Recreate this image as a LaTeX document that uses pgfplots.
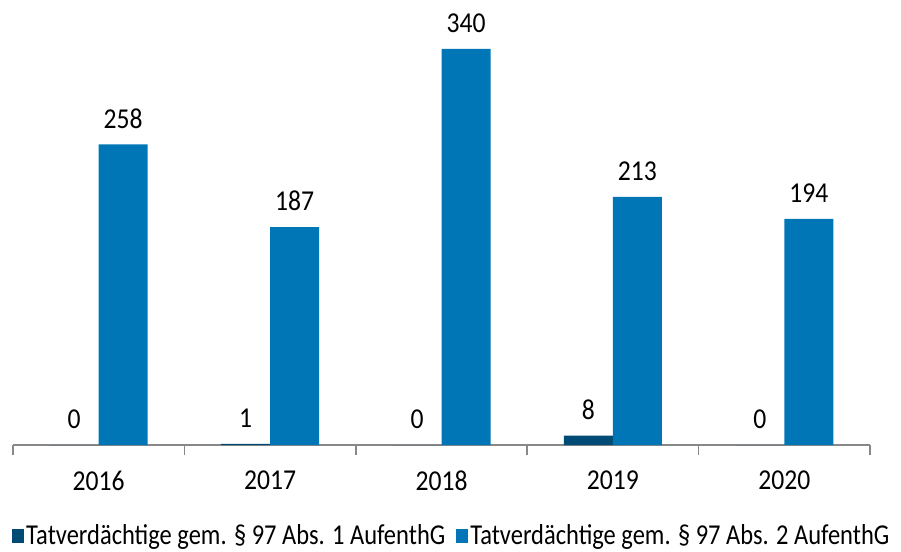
\documentclass[border=0pt]{standalone}
\usepackage{pgfplots}
\pgfplotsset{compat=1.18}
\usepackage{fontspec}
\setmainfont[FakeStretch=0.89]{Carlito}
\newfontfamily\legfont[FakeStretch=0.85]{Carlito}
\definecolor{darkblue}{RGB}{0,75,117}
\definecolor{midblue}{RGB}{0,118,182}
\definecolor{axisgray}{RGB}{136,136,136}
\begin{document}
\fontsize{28.8}{34}\selectfont
\begin{tikzpicture}
\path[use as bounding box] (-13pt,-106pt) rectangle (888pt,445pt);
\begin{axis}[
  scale only axis,
  width=857pt, height=442.7pt,
  ybar=0pt, bar width=49pt,
  xmin=-0.5, xmax=4.5, ymin=0, ymax=380,
  axis x line*=bottom, axis y line=none,
  x axis line style={axisgray, line width=1.6pt, -},
  xtick={0,1,2,3,4},
  xticklabels={2016,2017,2018,2019,2020},
  major tick length=0pt,
  minor xtick={-0.5,0.5,1.5,2.5,3.5,4.5},
  minor tick length=10pt,
  minor tick style={axisgray, line width=1.6pt},
  tick align=outside,
  xticklabel style={inner sep=0pt, anchor=north, yshift=-26pt, font=\fontsize{28.8}{34}\selectfont},
  nodes near coords,
  every node near coord/.append style={inner sep=0pt, anchor=south, yshift=16pt, text=black, font=\fontsize{28.8}{34}\selectfont},
  clip=false,
  /pgf/number format/assume math mode=true,
  legend style={draw=none, fill=none, at={(0.512,-0.208)}, anchor=center, legend columns=2,
    font=\legfont\fontsize{28.8}{34}\selectfont,
    /tikz/every even column/.append style={column sep=9pt},
    nodes={inner xsep=2pt},
    inner sep=0pt},
  every axis plot/.append style={
    legend image code/.code={\fill[##1] (0pt,-6pt) rectangle (12pt,8pt);}},
]
\addplot[fill=darkblue, draw=none] coordinates {(0,0) (1,1) (2,0) (3,8) (4,0)};
\addplot[fill=midblue, draw=none] coordinates {(0,258) (1,187) (2,340) (3,213) (4,194)};
\legend{Tatverdächtige gem. § 97 Abs. 1 AufenthG, Tatverdächtige gem. § 97 Abs. 2 AufenthG}
\end{axis}
\end{tikzpicture}
\end{document}
